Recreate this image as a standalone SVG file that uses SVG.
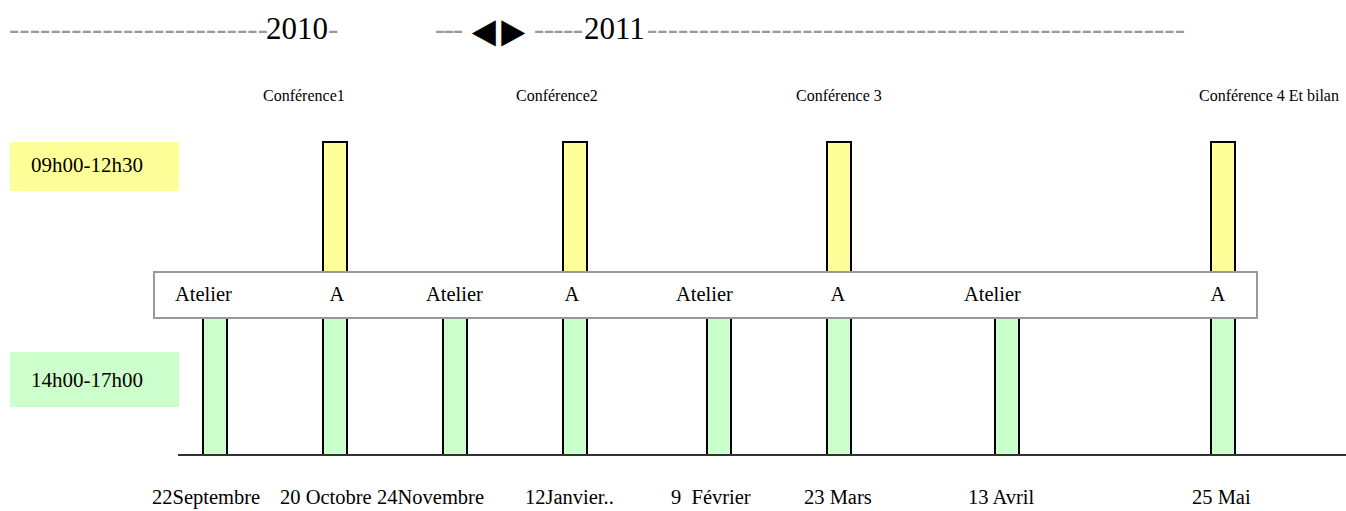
<svg xmlns="http://www.w3.org/2000/svg" width="1346" height="511" viewBox="0 0 1346 511">
<style>
text{font-family:"Liberation Serif","Times New Roman",serif;fill:#000}
.dash{fill:#999}
.yr{font-size:31px}
.tri{font-size:40px}
.conf{font-size:16px}
.lbl{font-size:21px}
.at{font-size:20.5px}
.date{font-size:20.5px}
.ybar{fill:#ffff99;stroke:#000;stroke-width:2}
.gbar{fill:#ccffcc;stroke:#000;stroke-width:2}
</style>
<rect width="1346" height="511" fill="#fff"/>
<g id="header">
<text class="yr dash" x="9" y="39" textLength="259" lengthAdjust="spacing">-------------------------</text>
<text class="yr" x="266" y="39">2010</text>
<text class="yr dash" x="328" y="39">-</text>
<text class="yr dash" x="435" y="39" textLength="28" lengthAdjust="spacing">---</text>
<text class="tri" transform="translate(464,46) scale(1,1.1)">◄<tspan dx="-10">►</tspan></text>
<text class="yr dash" x="534" y="39" textLength="49" lengthAdjust="spacing">-----</text>
<text class="yr" x="584" y="39">2011</text>
<text class="yr dash" x="647" y="39" textLength="538" lengthAdjust="spacing">----------------------------------------------------</text>
</g>
<g id="conferences">
<text class="conf" x="263" y="101">Conférence1</text>
<text class="conf" x="516" y="101">Conférence2</text>
<text class="conf" x="796" y="101">Conférence 3</text>
<text class="conf" x="1199" y="101">Conférence 4 Et bilan</text>
</g>
<g id="morning-label">
<rect x="10" y="142" width="169" height="49" fill="#ffff99"/>
<text class="lbl" x="31" y="172">09h00-12h30</text>
</g>
<g id="afternoon-label">
<rect x="10" y="352" width="169" height="55" fill="#ccffcc"/>
<text class="lbl" x="31" y="387">14h00-17h00</text>
</g>
<g id="morning-bars">
<rect class="ybar" x="323" y="142" width="24" height="130"/>
<rect class="ybar" x="563" y="142" width="24" height="130"/>
<rect class="ybar" x="827" y="142" width="24" height="130"/>
<rect class="ybar" x="1211" y="142" width="24" height="130"/>
</g>
<g id="afternoon-bars">
<rect class="gbar" x="203" y="318" width="24" height="137"/>
<rect class="gbar" x="323" y="318" width="24" height="137"/>
<rect class="gbar" x="443" y="318" width="24" height="137"/>
<rect class="gbar" x="563" y="318" width="24" height="137"/>
<rect class="gbar" x="707" y="318" width="24" height="137"/>
<rect class="gbar" x="827" y="318" width="24" height="137"/>
<rect class="gbar" x="995" y="318" width="24" height="137"/>
<rect class="gbar" x="1211" y="318" width="24" height="137"/>
</g>
<g id="atelier-band">
<rect x="154" y="272" width="1103" height="46" fill="#fff" stroke="#999" stroke-width="2"/>
<text class="at" x="175" y="301">Atelier</text>
<text class="at" x="337" y="301" text-anchor="middle">A</text>
<text class="at" x="426" y="301">Atelier</text>
<text class="at" x="572" y="301" text-anchor="middle">A</text>
<text class="at" x="676" y="301">Atelier</text>
<text class="at" x="838" y="301" text-anchor="middle">A</text>
<text class="at" x="964" y="301">Atelier</text>
<text class="at" x="1218" y="301" text-anchor="middle">A</text>
</g>
<g id="connectors">
<line x1="178" y1="455" x2="1346" y2="455" stroke="#333" stroke-width="2"/>
</g>
<g id="dates">
<text class="date" x="152" y="504">22Septembre</text>
<text class="date" x="280" y="504">20 Octobre</text>
<text class="date" x="377" y="504">24Novembre</text>
<text class="date" x="525" y="504">12Janvier..</text>
<text class="date" x="671" y="504" xml:space="preserve">9  Février</text>
<text class="date" x="804" y="504">23 Mars</text>
<text class="date" x="968" y="504">13 Avril</text>
<text class="date" x="1192" y="504">25 Mai</text>
</g>
</svg>
